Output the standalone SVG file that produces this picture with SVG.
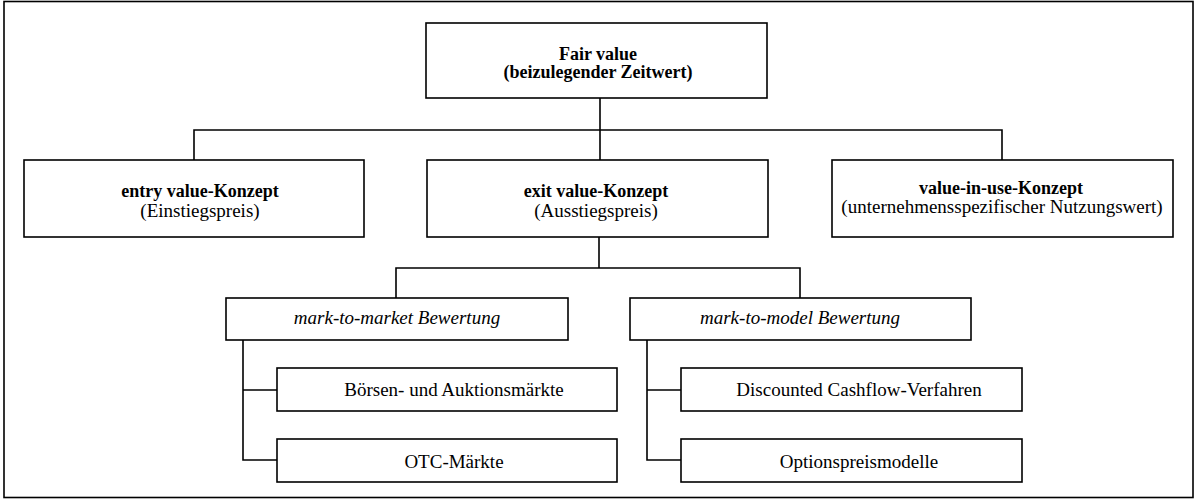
<svg xmlns="http://www.w3.org/2000/svg" width="1197" height="501" viewBox="0 0 1197 501">
<style>
.box{fill:#fff;stroke:#000;stroke-width:1.6}
.ln{fill:none;stroke:#000;stroke-width:1.6}
text{font-family:"Liberation Serif",serif;font-size:19px;fill:#000;text-anchor:middle}
.b{font-weight:bold;font-size:18px}
.i{font-style:italic}
</style>
<rect x="0" y="0" width="1197" height="501" fill="#fff"/>
<rect x="4" y="1.5" width="1189" height="496" class="box"/>
<g id="connectors">
<path class="ln" d="M600,98 V160 M194,160 V130 H1002 V160"/>
<path class="ln" d="M599,237 V268 M396,298 V268 H800 V298"/>
<path class="ln" d="M243,340 V460 H277 M243,390 H277"/>
<path class="ln" d="M647,340 V460 H681 M647,390 H681"/>
</g>
<g id="fair-value"><rect x="426" y="23" width="341" height="75" class="box"/>
<text x="598" y="60" class="b">Fair value</text><text x="598" y="78" class="b">(beizulegender Zeitwert)</text></g>
<g id="entry"><rect x="24" y="160" width="340" height="77" class="box"/>
<text x="200" y="197" class="b">entry value-Konzept</text><text x="200" y="217">(Einstiegspreis)</text></g>
<g id="exit"><rect x="427" y="160" width="341" height="77" class="box"/>
<text x="596" y="197" class="b">exit value-Konzept</text><text x="596" y="217">(Ausstiegspreis)</text></g>
<g id="value-in-use"><rect x="832" y="160" width="341" height="77" class="box"/>
<text x="1001" y="194" class="b">value-in-use-Konzept</text><text x="1002" y="213">(unternehmensspezifischer Nutzungswert)</text></g>
<g id="mtm"><rect x="226" y="298" width="342" height="42" class="box"/>
<text x="397" y="324" class="i">mark-to-market Bewertung</text></g>
<g id="mtmodel"><rect x="630" y="298" width="341" height="42" class="box"/>
<text x="800" y="324" class="i">mark-to-model Bewertung</text></g>
<g id="boersen"><rect x="277" y="368" width="340" height="43" class="box"/>
<text x="454" y="396">Börsen- und Auktionsmärkte</text></g>
<g id="otc"><rect x="277" y="439" width="340" height="43" class="box"/>
<text x="454" y="468">OTC-Märkte</text></g>
<g id="dcf"><rect x="681" y="368" width="341" height="43" class="box"/>
<text x="859" y="396">Discounted Cashflow-Verfahren</text></g>
<g id="opt"><rect x="681" y="439" width="341" height="43" class="box"/>
<text x="859" y="468">Optionspreismodelle</text></g>
</svg>
